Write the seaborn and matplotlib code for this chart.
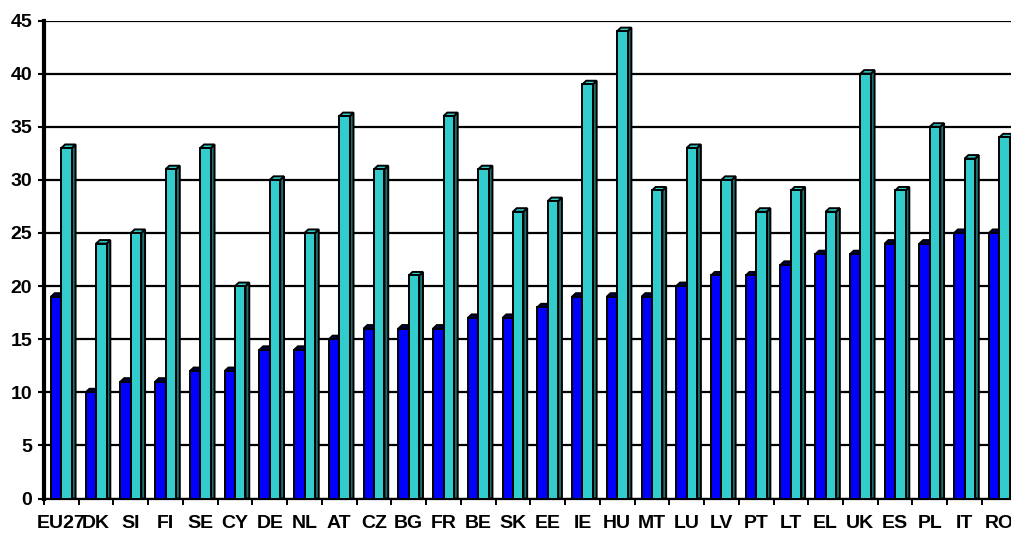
import numpy as np
import pandas as pd
import matplotlib
matplotlib.use("Agg")
import matplotlib.pyplot as plt
from matplotlib.patches import Polygon
import seaborn as sns

# Country codes and the two series of values
countries = ["EU27", "DK", "SI", "FI", "SE", "CY", "DE", "NL", "AT", "CZ",
             "BG", "FR", "BE", "SK", "EE", "IE", "HU", "MT", "LU", "LV",
             "PT", "LT", "EL", "UK", "ES", "PL", "IT", "RO"]
series_a = [19, 10, 11, 11, 12, 12, 14, 14, 15, 16,
            16, 16, 17, 17, 18, 19, 19, 19, 20, 21,
            21, 22, 23, 23, 24, 24, 25, 25]
series_b = [33, 24, 25, 31, 33, 20, 30, 25, 36, 31,
            21, 36, 31, 27, 28, 39, 44, 29, 33, 30,
            27, 29, 27, 40, 29, 35, 32, 34]
series_names = ["A", "B"]
y_ticks = list(range(0, 46, 5))

front_colors = ["#0000FF", "#33CCCC"]
side_colors = ["#00006A", "#1E6F6F"]
top_colors = ["#000050", "#33CCCC"]

df = pd.DataFrame({
    "country": countries * 2,
    "value": series_a + series_b,
    "series": [series_names[0]] * len(countries) + [series_names[1]] * len(countries),
})

sns.set_theme(style="white")
plt.rcParams["font.family"] = ["Liberation Sans", "DejaVu Sans"]
plt.rcParams["font.weight"] = "bold"
plt.rcParams["text.color"] = "black"
plt.rcParams["xtick.color"] = "black"
plt.rcParams["ytick.color"] = "black"
plt.rcParams["xtick.labelcolor"] = "black"
plt.rcParams["ytick.labelcolor"] = "black"

W, H = 1011, 534
fig = plt.figure(figsize=(W / 100, H / 100), dpi=100)
fig.patch.set_facecolor("white")
ax = fig.add_axes([44 / W, 35.5 / H, 972.7 / W, 478 / H])

edge_lw = 1.4
sns.barplot(data=df, x="country", y="value", hue="series", order=countries,
            hue_order=series_names, palette=front_colors, width=0.6,
            edgecolor="black", linewidth=edge_lw, saturation=1, legend=False, ax=ax)

ax.set_xlim(-0.5, len(countries) - 0.5)
ax.set_ylim(0, 45)

# Pseudo-3D depth: right side face and top face for every column
px_per_cat = 972.7 / len(countries)
px_per_unit = 478 / 45
dx = 3.8 / px_per_cat
dy = 3.5 / px_per_unit
bars = sorted(ax.patches, key=lambda p: p.get_x())
for i, bar in enumerate(bars):
    x, w, h = bar.get_x(), bar.get_width(), bar.get_height()
    fc = bar.get_facecolor()
    k = 0 if np.allclose(fc[:3], matplotlib.colors.to_rgb(front_colors[0])) else 1
    z = 3 + i * 0.01
    bar.set_zorder(z)
    side = Polygon([(x + w, 0), (x + w + dx, 0), (x + w + dx, h + dy), (x + w, h)],
                   closed=True, facecolor=side_colors[k], edgecolor="black",
                   linewidth=edge_lw, zorder=z - 0.001)
    top = Polygon([(x, h), (x + dx, h + dy), (x + w + dx, h + dy), (x + w, h)],
                  closed=True, facecolor=top_colors[k], edgecolor="black",
                  linewidth=edge_lw, zorder=z - 0.001)
    ax.add_patch(side)
    ax.add_patch(top)

# Gridlines and axes
ax.set_axisbelow(True)
ax.yaxis.grid(True, color="black", linewidth=1.6)
ax.xaxis.grid(False)
for s in ["top", "right"]:
    ax.spines[s].set_visible(False)
ax.spines["left"].set_linewidth(3.0)
ax.spines["left"].set_color("black")
ax.spines["bottom"].set_linewidth(1.6)
ax.spines["bottom"].set_color("black")

ax.set_yticks(y_ticks)
ax.set_yticklabels([str(t) for t in y_ticks], fontsize=14, fontweight="bold",
                   color="black")
ax.tick_params(axis="y", direction="out", length=4.5, width=1.5, color="black",
               pad=4, left=True)

ax.set_xticks(range(len(countries)))
ax.set_xticklabels(countries, fontsize=14, fontweight="bold", color="black",
                   family=["Liberation Sans Narrow", "Liberation Sans", "DejaVu Sans"])
ax.set_xticks(np.arange(-0.5, len(countries), 1), minor=True)
ax.tick_params(axis="x", which="major", length=0, pad=12)
ax.tick_params(axis="x", which="minor", direction="out", length=4, width=1.4,
               color="black", bottom=True)

ax.set_xlabel("")
ax.set_ylabel("")

fig.savefig("out.png", dpi=100, facecolor="white")
